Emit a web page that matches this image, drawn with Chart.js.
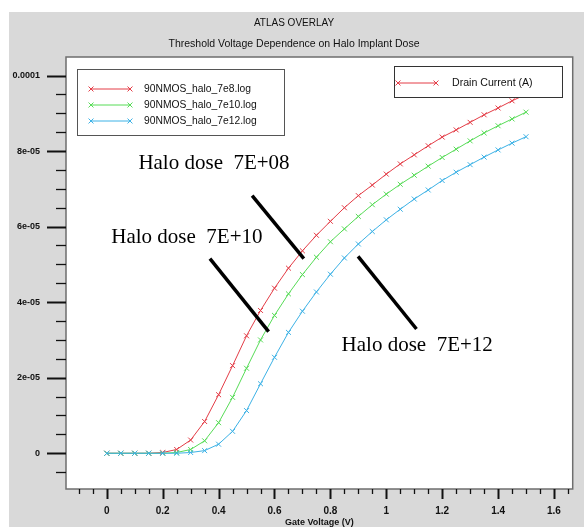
<!DOCTYPE html>
<html>
<head>
<meta charset="utf-8">
<script src="https://cdn.jsdelivr.net/npm/chart.js@4.4.1/dist/chart.umd.min.js"></script>
<style>
  html, body { margin: 0; padding: 0; background: #fff; }
  #wrap { width: 584px; height: 527px; }
</style>
</head>
<body>
<div id="wrap"><canvas id="atlas-chart" width="584" height="527"></canvas></div>
<script>
// Gate voltage sweep (V)
const gateVoltage = [0, 0.05, 0.1, 0.15, 0.2, 0.25, 0.3, 0.35, 0.4, 0.45, 0.5, 0.55, 0.6, 0.65, 0.7, 0.75,
    0.8, 0.85, 0.9, 0.95, 1.0, 1.05, 1.1, 1.15, 1.2, 1.25, 1.3, 1.35, 1.4, 1.45, 1.5];

// Drain current (A) for each halo dose
const drainHalo7e8 = [0, 0, 0, 0, 0.02e-5, 0.10e-5, 0.35e-5, 0.84e-5, 1.55e-5, 2.32e-5, 3.11e-5, 3.78e-5,
    4.37e-5, 4.90e-5, 5.36e-5, 5.77e-5, 6.14e-5, 6.50e-5, 6.82e-5, 7.10e-5, 7.39e-5, 7.66e-5, 7.90e-5,
    8.14e-5, 8.37e-5, 8.56e-5, 8.76e-5, 8.96e-5, 9.14e-5, 9.33e-5, 9.50e-5];
const drainHalo7e10 = [0, 0, 0, 0, 0, 0.02e-5, 0.10e-5, 0.33e-5, 0.81e-5, 1.48e-5, 2.25e-5, 3.00e-5,
    3.65e-5, 4.22e-5, 4.73e-5, 5.19e-5, 5.60e-5, 5.94e-5, 6.27e-5, 6.58e-5, 6.86e-5, 7.12e-5, 7.36e-5,
    7.60e-5, 7.83e-5, 8.05e-5, 8.27e-5, 8.48e-5, 8.67e-5, 8.85e-5, 9.03e-5];
const drainHalo7e12 = [0, 0, 0, 0, 0, 0, 0.02e-5, 0.07e-5, 0.24e-5, 0.58e-5, 1.13e-5, 1.84e-5,
    2.54e-5, 3.20e-5, 3.76e-5, 4.27e-5, 4.74e-5, 5.17e-5, 5.54e-5, 5.87e-5, 6.18e-5, 6.46e-5, 6.73e-5,
    6.97e-5, 7.22e-5, 7.44e-5, 7.64e-5, 7.84e-5, 8.03e-5, 8.21e-5, 8.38e-5];

const seriesNames = ['90NMOS_halo_7e8.log', '90NMOS_halo_7e10.log', '90NMOS_halo_7e12.log'];
const seriesColors = ['#e43d47', '#57dc57', '#3db2e6'];

// Tick labels
const xMajorTicks = [0, 0.2, 0.4, 0.6, 0.8, 1, 1.2, 1.4, 1.6];
const xTickLabels = ['0', '0.2', '0.4', '0.6', '0.8', '1', '1.2', '1.4', '1.6'];
const yMajorTicks = [0, 2e-5, 4e-5, 6e-5, 8e-5, 1e-4];
const yTickLabels = ['0', '2e-05', '4e-05', '6e-05', '8e-05', '0.0001'];

// Hand-drawn annotations (data coordinates)
const noteTexts = ['Halo dose  7E+08', 'Halo dose  7E+10', 'Halo dose  7E+12'];
const noteTextAt = [[0.113, 7.68e-5], [0.016, 5.70e-5], [0.840, 2.84e-5]];
const noteLineFrom = [[0.520, 6.82e-5], [0.369, 5.15e-5], [0.899, 5.21e-5]];
const noteLineTo = [[0.705, 5.15e-5], [0.579, 3.22e-5], [1.108, 3.29e-5]];

const SANS = "'Liberation Sans', Arial, sans-serif";

// minor tick positions every 0.05 V / 5e-6 A
const xMinorTicks = [];
for (let i = -2; i <= 33; i++) xMinorTicks.push(Math.round(i * 5) / 100);
const yMinorTicks = [];
for (let i = -1; i <= 20; i++) yMinorTicks.push(Math.round(i * 5) * 1e-6);

function labelFor(value, majors, labels, eps) {
    const i = majors.findIndex(m => Math.abs(m - value) < eps);
    return i >= 0 ? labels[i] : '';
}

const decorPlugin = {
    id: 'atlasDecor',
    beforeDraw(chart) {
        const { ctx, chartArea: a } = chart;
        ctx.save();
        ctx.fillStyle = '#ffffff';
        ctx.fillRect(0, 0, chart.width, chart.height);
        ctx.fillStyle = '#d9d9d9';
        ctx.fillRect(9, 12, chart.width - 9, chart.height - 12);
        ctx.fillStyle = '#ffffff';
        ctx.fillRect(a.left, a.top, a.right - a.left, a.bottom - a.top);
        ctx.restore();
    },
    afterDatasetsDraw(chart) {
        const { ctx, chartArea: a, scales: { x, y } } = chart;
        ctx.save();

        // frame
        ctx.strokeStyle = '#6e6e6e';
        ctx.lineWidth = 1.5;
        ctx.strokeRect(a.left, a.top, a.right - a.left, a.bottom - a.top);

        // tick marks outside the plot
        ctx.strokeStyle = '#111';
        x.ticks.forEach(t => {
            const px = Math.round(x.getPixelForValue(t.value)) + 0.5;
            const major = t.label !== '';
            ctx.lineWidth = major ? 2 : 1.3;
            ctx.beginPath();
            ctx.moveTo(px, a.bottom);
            ctx.lineTo(px, a.bottom + (major ? 10 : 5));
            ctx.stroke();
        });
        y.ticks.forEach(t => {
            const py = Math.round(y.getPixelForValue(t.value)) + 0.5;
            const major = t.label !== '';
            ctx.lineWidth = major ? 2 : 1.3;
            ctx.beginPath();
            ctx.moveTo(a.left, py);
            ctx.lineTo(a.left - (major ? 19 : 10), py);
            ctx.stroke();
        });

        // annotations
        ctx.strokeStyle = '#000';
        ctx.lineWidth = 3.5;
        ctx.lineCap = 'butt';
        noteLineFrom.forEach((p, i) => {
            const q = noteLineTo[i];
            ctx.beginPath();
            ctx.moveTo(x.getPixelForValue(p[0]), y.getPixelForValue(p[1]));
            ctx.lineTo(x.getPixelForValue(q[0]), y.getPixelForValue(q[1]));
            ctx.stroke();
        });
        ctx.fillStyle = '#000';
        ctx.font = "21px 'Liberation Serif', 'Times New Roman', serif";
        ctx.textBaseline = 'middle';
        ctx.textAlign = 'left';
        noteTexts.forEach((txt, i) => {
            ctx.fillText(txt, x.getPixelForValue(noteTextAt[i][0]), y.getPixelForValue(noteTextAt[i][1]));
        });

        // series legend box
        const marker = (cx, cy) => Chart.helpers.drawPoint(ctx, { pointStyle: 'crossRot', radius: 3.5, borderWidth: 1 }, cx, cy);
        ctx.fillStyle = '#fff';
        ctx.fillRect(77, 69, 207, 66);
        ctx.strokeStyle = '#555';
        ctx.lineWidth = 1;
        ctx.strokeRect(77.5, 69.5, 207, 66);
        ctx.font = '10.3px ' + SANS;
        seriesNames.forEach((name, i) => {
            const ry = 89 + i * 16;
            ctx.strokeStyle = seriesColors[i];
            ctx.lineWidth = 1;
            ctx.beginPath();
            ctx.moveTo(91, ry);
            ctx.lineTo(130, ry);
            ctx.stroke();
            marker(91, ry);
            marker(130, ry);
            ctx.fillStyle = '#111';
            ctx.fillText(name, 144, ry);
        });

        // quantity legend box
        ctx.fillStyle = '#fff';
        ctx.fillRect(394, 66, 168, 31);
        ctx.strokeStyle = '#333';
        ctx.lineWidth = 1;
        ctx.strokeRect(394.5, 66.5, 168, 31);
        ctx.strokeStyle = seriesColors[0];
        ctx.beginPath();
        ctx.moveTo(398, 83);
        ctx.lineTo(436, 83);
        ctx.stroke();
        marker(398, 83);
        marker(436, 83);
        ctx.fillStyle = '#111';
        ctx.font = '10.6px ' + SANS;
        ctx.fillText('Drain Current (A)', 452, 83);

        ctx.restore();
    }
};

function makeSeries(values, idx) {
    return {
        label: seriesNames[idx],
        data: gateVoltage.map((v, i) => ({ x: v, y: values[i] })),
        showLine: true,
        borderColor: seriesColors[idx],
        backgroundColor: seriesColors[idx],
        borderWidth: 1,
        pointStyle: 'crossRot',
        pointRadius: 3.5,
        pointBorderWidth: 1,
        pointBorderColor: seriesColors[idx],
        tension: 0,
        order: 2 - idx
    };
}

new Chart(document.getElementById('atlas-chart'), {
    type: 'scatter',
    data: {
        datasets: [
            makeSeries(drainHalo7e8, 0),
            makeSeries(drainHalo7e10, 1),
            makeSeries(drainHalo7e12, 2)
        ]
    },
    options: {
        responsive: false,
        animation: false,
        layout: { padding: { top: 0, left: 9, right: 5, bottom: 0 } },
        plugins: {
            legend: { display: false },
            tooltip: { enabled: false },
            title: {
                display: true,
                text: 'ATLAS OVERLAY',
                color: '#111',
                font: { family: SANS, size: 10, weight: 'normal', lineHeight: 1.2 },
                padding: { top: 17.3, bottom: 0 }
            },
            subtitle: {
                display: true,
                text: 'Threshold Voltage Dependence on Halo Implant Dose',
                color: '#111',
                font: { family: SANS, size: 10.5, weight: 'normal', lineHeight: 1.2 },
                padding: { top: 8.7, bottom: 6.4 }
            }
        },
        scales: {
            x: {
                type: 'linear',
                min: -0.146,
                max: 1.667,
                afterBuildTicks: s => { s.ticks = xMinorTicks.map(v => ({ value: v })); },
                afterFit: s => { s.height = 38; },
                grid: { display: false, drawTicks: false },
                border: { display: false },
                ticks: {
                    autoSkip: false,
                    maxRotation: 0,
                    padding: 16,
                    color: '#111',
                    font: { family: SANS, size: 10, weight: 'bold' },
                    callback: v => labelFor(v, xMajorTicks, xTickLabels, 1e-6)
                },
                title: {
                    display: true,
                    text: 'Gate Voltage (V)',
                    color: '#111',
                    font: { family: SANS, size: 9, weight: 'bold', lineHeight: 1.2 },
                    padding: { top: 0, bottom: -1 }
                }
            },
            y: {
                type: 'linear',
                min: -9.46e-6,
                max: 1.049e-4,
                afterBuildTicks: s => { s.ticks = yMinorTicks.map(v => ({ value: v })); },
                afterFit: s => { s.width = 57; },
                grid: { display: false, drawTicks: false },
                border: { display: false },
                ticks: {
                    autoSkip: false,
                    padding: 26,
                    color: '#111',
                    font: { family: SANS, size: 9, weight: 'bold' },
                    callback: v => labelFor(v, yMajorTicks, yTickLabels, 1e-9)
                }
            }
        }
    },
    plugins: [decorPlugin]
});
</script>
</body>
</html>
